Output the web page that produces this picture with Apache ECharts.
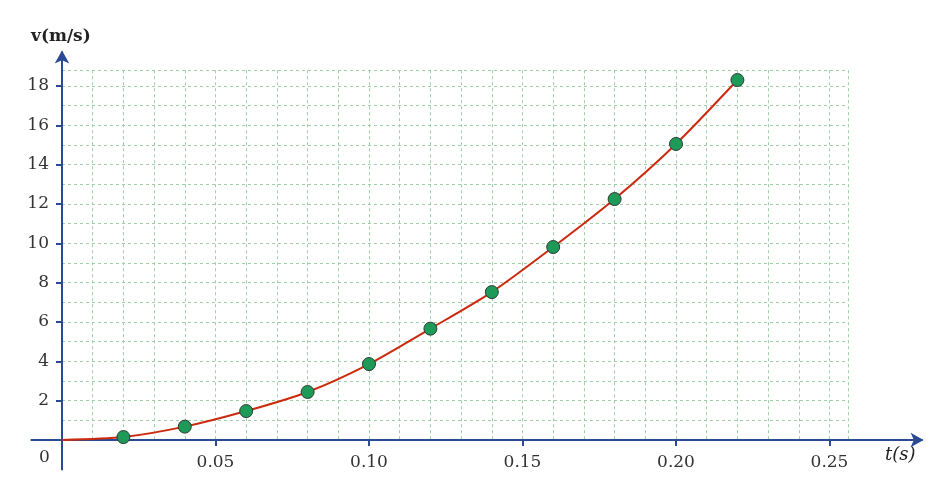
<!DOCTYPE html>
<html>
<head>
<meta charset="utf-8">
<script src="https://cdn.jsdelivr.net/npm/echarts@6/dist/echarts.min.js"></script>
<style>html,body{margin:0;padding:0;background:#fff;}#c{width:952px;height:501px;}</style>
</head>
<body>
<div id="c"></div>
<script>
// Data
var tValues = [0, 0.02, 0.04, 0.06, 0.08, 0.10, 0.12, 0.14, 0.16, 0.18, 0.20, 0.22];
var vValues = [0, 0.15, 0.68, 1.47, 2.44, 3.86, 5.66, 7.52, 9.81, 12.25, 15.05, 18.3];
var xTickValues = [0.05, 0.10, 0.15, 0.20, 0.25];
var yTickValues = [2, 4, 6, 8, 10, 12, 14, 16, 18];
var xTitle = 't(s)';
var yTitle = 'v(m/s)';

var pxPerX = 153.5 / 0.05;
var pxPerY = 19.67;
var originX = 62, originY = 440;
var W = 952, H = 501;

var gbXMax = 0.256, gbYMax = 18.8;          // split-line grid
var gaXMax = 0.28, gaYMax = 19.7;            // tick/label grid + arrows
var gcXMin = -0.01, gcYMin = -1.5;           // axis-line extensions

var axisColor = '#2b4a94';
var font = 'DejaVu Serif';
var gridColor = '#9fcfa9';

var seriesData = tValues.map(function (t, i) {
  var d = { value: [t, vValues[i]] };
  if (i === 0) d.symbol = 'none';
  return d;
});

function gridBox(x0, x1, y0, y1) {
  return {
    left: originX + x0 * pxPerX,
    right: W - (originX + x1 * pxPerX),
    top: originY - y1 * pxPerY,
    bottom: H - (originY - y0 * pxPerY),
    containLabel: false,
    outerBoundsMode: 'none'
  };
}

var hidden = { axisLine: { show: false }, axisTick: { show: false }, axisLabel: { show: false }, splitLine: { show: false } };

var chart = echarts.init(document.getElementById('c'), null, { renderer: 'canvas' });
chart.setOption({
  animation: false,
  grid: [
    gridBox(0, gaXMax, 0, gaYMax),
    gridBox(0, gbXMax, 0, gbYMax),
    gridBox(gcXMin, gaXMax, gcYMin, gaYMax)
  ],
  xAxis: [
    {
      type: 'value', gridIndex: 0, min: 0, max: gaXMax,
      axisLine: { show: true, lineStyle: { color: axisColor, width: 2 }, symbol: ['none', 'arrow'], symbolSize: [11, 13], symbolOffset: [0, 2] },
      axisTick: { show: true, length: 6, customValues: xTickValues, lineStyle: { color: axisColor, width: 2 } },
      axisLabel: { customValues: xTickValues, color: '#333', fontFamily: font, fontSize: 17, margin: 14,
        formatter: function (v) { return v.toFixed(2); } },
      splitLine: { show: false }
    },
    Object.assign({
      type: 'value', gridIndex: 1, min: 0, max: gbXMax, interval: 0.01
    }, hidden, { splitLine: { show: true, lineStyle: { color: gridColor, type: [3, 3], width: 1 } } }),
    Object.assign({
      type: 'value', gridIndex: 2, min: gcXMin, max: gaXMax
    }, hidden, { axisLine: { show: true, onZero: true, lineStyle: { color: axisColor, width: 2 } } })
  ],
  yAxis: [
    {
      type: 'value', gridIndex: 0, min: 0, max: gaYMax,
      axisLine: { show: true, lineStyle: { color: axisColor, width: 2 }, symbol: ['none', 'arrow'], symbolSize: [11, 13], symbolOffset: [0, 2] },
      axisTick: { show: true, length: 6, customValues: yTickValues, lineStyle: { color: axisColor, width: 2 } },
      axisLabel: { customValues: yTickValues, color: '#333', fontFamily: font, fontSize: 17, margin: 13 },
      splitLine: { show: false }
    },
    Object.assign({
      type: 'value', gridIndex: 1, min: 0, max: gbYMax, interval: 1
    }, hidden, { splitLine: { show: true, lineStyle: { color: gridColor, type: [3, 3], width: 1 } } }),
    Object.assign({
      type: 'value', gridIndex: 2, min: gcYMin, max: gaYMax
    }, hidden, { axisLine: { show: true, onZero: true, lineStyle: { color: axisColor, width: 2 } } })
  ],
  graphic: [
    { type: 'text', left: 39, top: 449, style: { text: '0', font: '17px "DejaVu Serif"', fill: '#333' } },
    { type: 'text', left: 885, top: 446, style: { text: xTitle, font: 'italic 18px "DejaVu Serif"', fill: '#222' } },
    { type: 'text', left: 31, top: 28, style: { text: yTitle, font: 'bold 17px "DejaVu Serif"', fill: '#222' } }
  ],
  series: [
    {
      type: 'line', xAxisIndex: 1, yAxisIndex: 1,
      data: seriesData,
      smooth: 0.25,
      symbol: 'circle', symbolSize: 13,
      lineStyle: { color: '#cc2a0e', width: 2 },
      itemStyle: { color: '#1e9a58', borderColor: '#2e3a34', borderWidth: 1 },
      z: 5
    }
  ]
});
</script>
</body>
</html>
